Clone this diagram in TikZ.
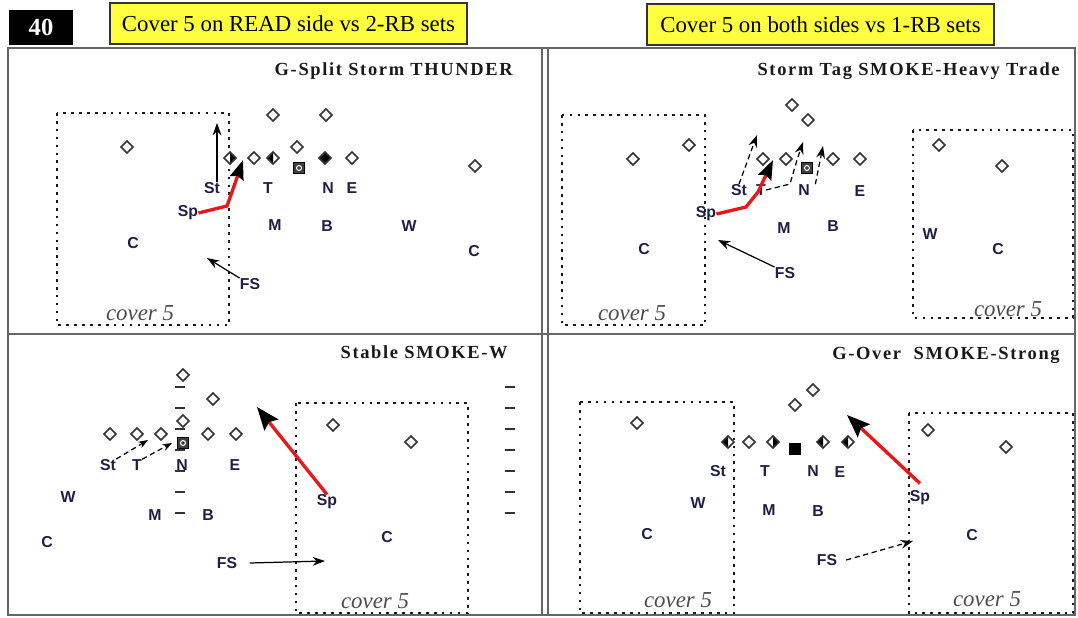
\documentclass[tikz,border=0pt]{standalone}
\usepackage{fontspec}
\setmainfont{Liberation Serif}
\setsansfont{Liberation Sans}
\newfontfamily\playfont[LetterSpace=9]{Liberation Serif}
\usetikzlibrary{shapes.geometric,arrows.meta}
\definecolor{ink}{RGB}{30,30,70}
\definecolor{hilite}{RGB}{255,255,64}
\definecolor{blitzred}{RGB}{232,24,24}
\tikzset{
  font={\sffamily\bfseries\fontsize{9pt}{10}\selectfont},
  off/.style={diamond, draw=black!80, fill=white, line width=0.9pt, inner sep=0pt, minimum size=2.5mm},
  offL/.style={off, path picture={\fill[black] (path picture bounding box.north) -- (path picture bounding box.west) -- (path picture bounding box.south) -- cycle;}},
  offR/.style={off, path picture={\fill[black] (path picture bounding box.north) -- (path picture bounding box.east) -- (path picture bounding box.south) -- cycle;}},
  ctr/.style={rectangle, draw=black, fill=black!75, line width=0.7pt, inner sep=0pt, minimum size=2.3mm,
    path picture={\draw[white, line width=0.6pt] (path picture bounding box.center) circle (0.5mm);}},
  snap/.style={rectangle, fill=black, inner sep=0pt, minimum size=2.4mm},
  lbl/.style={text=ink, inner sep=0pt},
  ttl/.style={anchor=east, inner sep=0pt, text=black!90, font={\playfont\bfseries\fontsize{10.5pt}{12}\selectfont}},
  cov/.style={inner sep=0pt, text=black!70, font={\rmfamily\mdseries\itshape\fontsize{13pt}{14}\selectfont}},
  zone/.style={draw=black!90, line width=1.6pt, dash pattern=on 1.5pt off 3pt},
  hash/.style={draw=black!80, line width=1.2pt},
  hdr/.style={draw=black!80, line width=1.3pt, fill=hilite, inner sep=0pt, minimum height=0.82cm,
    font={\rmfamily\mdseries\fontsize{13pt}{15}\selectfont}},
  frm/.style={draw=black!60, line width=1.1pt},
  route/.style={line width=0.7pt, -{Stealth[length=7pt,width=5pt]}},
  short/.style={line width=0.7pt, -{Stealth[length=5.5pt,width=4pt]}},
  blitz/.style={draw=blitzred, line width=1.9pt, -{Stealth[length=11pt,width=8pt,inset=1.5pt,color=black]}},
  bigblitz/.style={draw=blitzred, line width=1.9pt, -{Stealth[length=13pt,width=10pt,inset=2pt,color=black]}}
}

\begin{document}
\begin{tikzpicture}[x=0.02cm, y=0.02cm]
\useasboundingbox (0,0) rectangle (1078,-618);
\node[fill=black, minimum width=1.28cm, minimum height=0.7cm, inner sep=0pt, text=white,
  font={\rmfamily\bfseries\fontsize{14pt}{16}\selectfont}] (num) at (41,-27.5) {40};
\node[hdr, minimum width=7.14cm] (hdrA) at (288.5,-23.5) {Cover 5 on READ side vs 2-RB sets};
\node[hdr, minimum width=6.94cm] (hdrB) at (820.5,-24.5) {Cover 5 on both sides vs 1-RB sets};
\draw[frm] (8,-48) rectangle (1075,-615);
\draw[frm] (542,-48) -- (542,-615);
\draw[frm] (548,-48) -- (548,-615);
\draw[frm] (8,-334) -- (1075,-334);

\node[ttl] (ttlA) at (513,-71) {G-Split Storm THUNDER};
\draw[zone] (57,-113) rectangle (229,-325);
\node[cov] (covA) at (140,-313) {cover 5};
\node[off] (a1) at (127,-147) {};
\node[off] (a2) at (273,-115) {};
\node[off] (a3) at (326,-115) {};
\node[off] (a4) at (297,-147) {};
\node[offR] (a5) at (230,-158) {};
\node[off] (a6) at (254,-158) {};
\node[offL] (a7) at (273,-158) {};
\node[ctr] (a8) at (299,-168) {};
\node[off, fill=black] (a9) at (325,-158) {};
\node[off] (a10) at (352,-158) {};
\node[off] (a11) at (475,-166) {};
\node[lbl] (aSt) at (212,-188) {St};
\node[lbl] (aT) at (268,-188) {T};
\node[lbl] (aN) at (328,-188) {N};
\node[lbl] (aE) at (352,-188) {E};
\node[lbl] (aM) at (275,-225) {M};
\node[lbl] (aB) at (327,-226) {B};
\node[lbl] (aW) at (409,-226) {W};
\node[lbl] (aC1) at (133,-243) {C};
\node[lbl] (aC2) at (474,-251) {C};
\node[lbl] (aSp) at (188,-213) {Sp};
\node[lbl] (aFS) at (250,-284) {FS};
\coordinate (aStEnd) at (217,-123);
\coordinate (aSpEnd) at (243,-160);
\coordinate (aFSEnd) at (207,-258);
\draw[route] (aSt.north -| aStEnd) -- (aStEnd);
\draw[blitz] (aSp.east) -- (227,-206) -- (232,-192) -- (aSpEnd);
\draw[route] (aFS.north west) -- (aFSEnd);

\node[ttl] (ttlB) at (1060,-71) {Storm Tag SMOKE-Heavy Trade};
\draw[zone] (562,-115) rectangle (705,-325);
\draw[zone] (913,-130) rectangle (1073,-318);
\node[cov] (covB1) at (632,-313) {cover 5};
\node[cov] (covB2) at (1008,-309) {cover 5};
\node[off] (b1) at (633,-159) {};
\node[off] (b2) at (689,-145) {};
\node[off] (b3) at (792,-105) {};
\node[off] (b4) at (808,-120) {};
\node[off] (b5) at (763,-159) {};
\node[off] (b6) at (786,-159) {};
\node[ctr] (b7) at (807,-168) {};
\node[off] (b8) at (833,-159) {};
\node[off] (b9) at (860,-159) {};
\node[off] (b10) at (939,-145) {};
\node[off] (b11) at (1002,-166) {};
\node[lbl] (bSt) at (739,-190) {St};
\node[lbl] (bT) at (761,-190) {T};
\node[lbl] (bN) at (804,-190) {N};
\node[lbl] (bE) at (860,-191) {E};
\node[lbl] (bM) at (784,-228) {M};
\node[lbl] (bB) at (833,-226) {B};
\node[lbl] (bW) at (930,-234) {W};
\node[lbl] (bC1) at (644,-249) {C};
\node[lbl] (bC2) at (998,-249) {C};
\node[lbl] (bSp) at (706,-214) {Sp};
\node[lbl] (bFS) at (785,-273) {FS};
\coordinate (bStEnd) at (757,-135);
\coordinate (bSpEnd) at (773,-160);
\coordinate (bTEnd) at (803,-142);
\coordinate (bNEnd) at (823,-146);
\coordinate (bFSEnd) at (718,-240);
\draw[route, densely dashed] (bSt.north) -- (bStEnd);
\draw[blitz] (bSp.east) -- (746,-207) -- (758,-192) -- (bSpEnd);
\draw[route, densely dashed] (bT.east) -- (790,-184) -- (797,-160) -- (bTEnd);
\draw[route, densely dashed] ([xshift=3pt]bN.north east) -- (bNEnd);
\draw[route] (bFS.north west) -- (bFSEnd);

\node[ttl] (ttlC) at (508,-352) {Stable SMOKE-W};
\draw[zone] (296,-403) rectangle (468,-613);
\node[cov] (covC) at (375,-601) {cover 5};
\foreach \y in {387,408,...,513} {
  \draw[hash] (175,-\y) -- (185,-\y);
  \draw[hash] (505,-\y) -- (515,-\y);
}
\node[off] (c1) at (183,-375) {};
\node[off] (c2) at (213,-399) {};
\node[off] (c3) at (110,-434) {};
\node[off] (c4) at (137,-434) {};
\node[off] (c5) at (161,-434) {};
\node[off] (c6) at (183,-421) {};
\node[ctr] (c7) at (183,-443) {};
\node[off] (c8) at (208,-434) {};
\node[off] (c9) at (236,-434) {};
\node[off] (c10) at (333,-425) {};
\node[off] (c11) at (411,-442) {};
\node[lbl] (cSt) at (108,-465) {St};
\node[lbl] (cT) at (137,-465) {T};
\node[lbl] (cN) at (182,-465) {N};
\node[lbl] (cE) at (235,-465) {E};
\node[lbl] (cW) at (68,-497) {W};
\node[lbl] (cM) at (155,-515) {M};
\node[lbl] (cB) at (208,-515) {B};
\node[lbl] (cC1) at (47,-542) {C};
\node[lbl] (cC2) at (387,-537) {C};
\node[lbl] (cSp) at (327,-502) {Sp};
\node[lbl] (cFS) at (227,-563) {FS};
\coordinate (cR1) at (148,-440);
\coordinate (cR2) at (172,-443);
\coordinate (cSpEnd) at (257,-407);
\coordinate (cFSEnd) at (325,-561);
\draw[short, densely dashed] (cSt.north east) -- (cR1);
\draw[short, densely dashed] (cT.north east) -- (cR2);
\draw[bigblitz] (cSp.north) -- (cSpEnd);
\draw[route] ([xshift=7pt]cFS.east) -- (cFSEnd);

\node[ttl] (ttlD) at (1060,-355) {G-Over\ \ SMOKE-Strong};
\draw[zone] (580,-402) rectangle (734,-613);
\draw[zone] (909,-413) rectangle (1073,-613);
\node[cov] (covD1) at (678,-600) {cover 5};
\node[cov] (covD2) at (987,-599) {cover 5};
\node[off] (d1) at (637,-423) {};
\node[off] (d2) at (795,-405) {};
\node[off] (d3) at (813,-390) {};
\node[offL] (d4) at (728,-442) {};
\node[off] (d5) at (749,-442) {};
\node[offR] (d6) at (773,-442) {};
\node[snap] (d7) at (795,-449) {};
\node[offL] (d8) at (823,-442) {};
\node[offL] (d9) at (848,-442) {};
\node[off] (d10) at (928,-430) {};
\node[off] (d11) at (1006,-447) {};
\node[lbl] (dSt) at (718,-471) {St};
\node[lbl] (dT) at (765,-471) {T};
\node[lbl] (dN) at (813,-471) {N};
\node[lbl] (dE) at (840,-472) {E};
\node[lbl] (dW) at (698,-503) {W};
\node[lbl] (dM) at (769,-510) {M};
\node[lbl] (dB) at (818,-511) {B};
\node[lbl] (dC1) at (647,-534) {C};
\node[lbl] (dC2) at (972,-535) {C};
\node[lbl] (dSp) at (920,-498) {Sp};
\node[lbl] (dFS) at (827,-560) {FS};
\coordinate (dSpEnd) at (847,-415);
\coordinate (dFSEnd) at (913,-541);
\draw[bigblitz] ([yshift=4pt]dSp.north) -- (dSpEnd);
\draw[route, densely dashed] ([xshift=5pt]dFS.east) -- (dFSEnd);
\end{tikzpicture}
\end{document}
